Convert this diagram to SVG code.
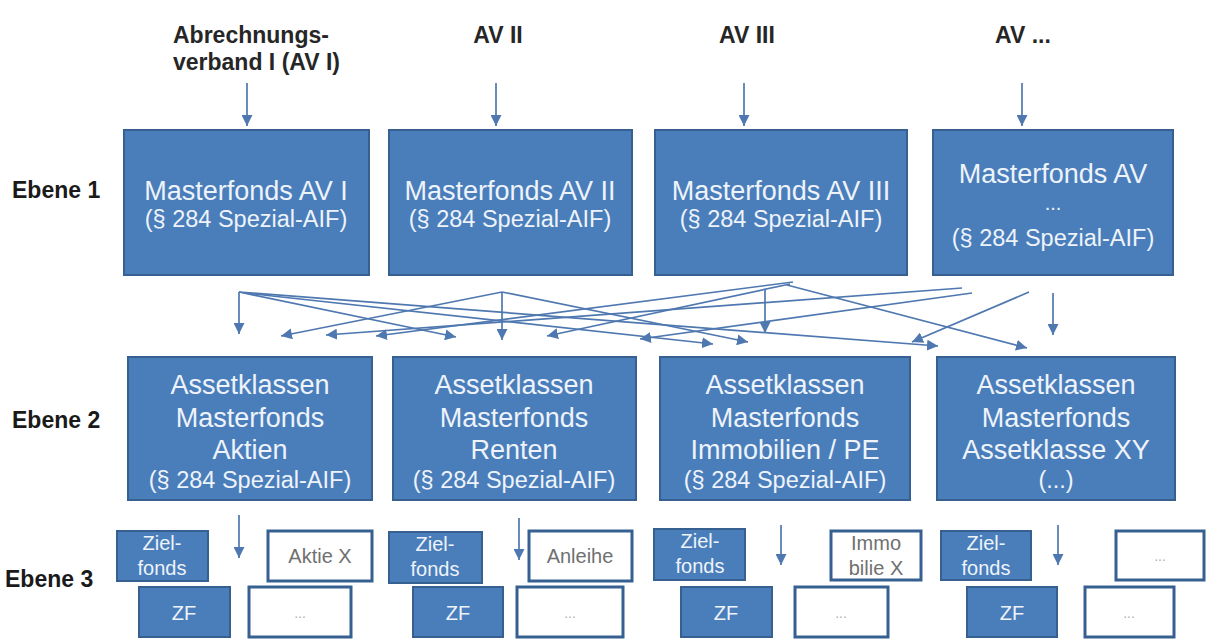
<svg xmlns="http://www.w3.org/2000/svg" width="1206" height="644" viewBox="0 0 1206 644">
<style>
.bg{fill:#ffffff}
.box{fill:#4a7ebb;stroke:#36608f;stroke-width:2}
.wbox{fill:#ffffff;stroke:#36608f;stroke-width:3}
.t1{font-family:"Liberation Sans",Arial,sans-serif;font-size:27px;fill:#eef3fa;text-anchor:middle}
.t2{font-family:"Liberation Sans",Arial,sans-serif;font-size:23.5px;fill:#eef3fa;text-anchor:middle}
.t3{font-family:"Liberation Sans",Arial,sans-serif;font-size:20px;fill:#eef3fa;text-anchor:middle}
.g3{font-family:"Liberation Sans",Arial,sans-serif;font-size:20px;fill:#707070;text-anchor:middle}
.dots{font-family:"Liberation Sans",Arial,sans-serif;font-size:14px;fill:#b0b0b0;text-anchor:middle}
.hd{font-family:"Liberation Sans",Arial,sans-serif;font-size:23px;font-weight:bold;fill:#262626}
.lv{font-family:"Liberation Sans",Arial,sans-serif;font-size:23px;font-weight:bold;fill:#1a1a1a}
.c{fill:none;stroke:#4f78b0;stroke-width:1.7;marker-end:url(#ah)}
</style>
<defs>
<marker id="ah" viewBox="0 0 10 10" refX="10" refY="5" markerWidth="11" markerHeight="11" markerUnits="userSpaceOnUse" orient="auto">
<path d="M0,0 L10,5 L0,10 z" fill="#4f78b0"/>
</marker>
</defs>
<rect class="bg" x="0" y="0" width="1206" height="644"/>

<g id="headers">
<text class="hd" x="173" y="43">Abrechnungs-</text>
<text class="hd" x="173" y="70">verband I (AV I)</text>
<text class="hd" x="498" y="43" text-anchor="middle">AV II</text>
<text class="hd" x="747" y="43" text-anchor="middle">AV III</text>
<text class="hd" x="1023" y="43" text-anchor="middle">AV ...</text>
</g>
<g id="levels">
<text class="lv" x="12" y="198">Ebene 1</text>
<text class="lv" x="12" y="428">Ebene 2</text>
<text class="lv" x="5" y="587">Ebene 3</text>
</g>

<g id="mf1"><rect class="box" x="124" y="130" width="245" height="145"/>
<text class="t1" x="246" y="200">Masterfonds AV I</text><text class="t2" x="246" y="227">(§ 284 Spezial-AIF)</text></g>
<g id="mf2"><rect class="box" x="389" y="130" width="243" height="145"/>
<text class="t1" x="510" y="200">Masterfonds AV II</text><text class="t2" x="510" y="227">(§ 284 Spezial-AIF)</text></g>
<g id="mf3"><rect class="box" x="655" y="130" width="252" height="145"/>
<text class="t1" x="781" y="200">Masterfonds AV III</text><text class="t2" x="781" y="227">(§ 284 Spezial-AIF)</text></g>
<g id="mf4"><rect class="box" x="933" y="130" width="240" height="145"/>
<text class="t1" x="1053" y="183">Masterfonds AV</text><text class="t3" x="1053" y="210">...</text><text class="t2" x="1053" y="246">(§ 284 Spezial-AIF)</text></g>

<g id="ak1"><rect class="box" x="128" y="357" width="244" height="143"/>
<text class="t1" x="250" y="394">Assetklassen</text><text class="t1" x="250" y="427">Masterfonds</text><text class="t1" x="250" y="459">Aktien</text><text class="t2" x="250" y="488">(§ 284 Spezial-AIF)</text></g>
<g id="ak2"><rect class="box" x="393" y="357" width="243" height="143"/>
<text class="t1" x="514" y="394">Assetklassen</text><text class="t1" x="514" y="427">Masterfonds</text><text class="t1" x="514" y="459">Renten</text><text class="t2" x="514" y="488">(§ 284 Spezial-AIF)</text></g>
<g id="ak3"><rect class="box" x="660" y="357" width="250" height="143"/>
<text class="t1" x="785" y="394">Assetklassen</text><text class="t1" x="785" y="427">Masterfonds</text><text class="t1" x="785" y="459">Immobilien / PE</text><text class="t2" x="785" y="488">(§ 284 Spezial-AIF)</text></g>
<g id="ak4"><rect class="box" x="937" y="357" width="238" height="143"/>
<text class="t1" x="1056" y="394">Assetklassen</text><text class="t1" x="1056" y="427">Masterfonds</text><text class="t1" x="1056" y="459">Assetklasse XY</text><text class="t2" x="1056" y="488">(...)</text></g>

<g id="zf1a"><rect class="box" x="117" y="531" width="91" height="50"/><text class="t3" x="162" y="550">Ziel-</text><text class="t3" x="162" y="575">fonds</text></g>
<g id="zf2a"><rect class="box" x="389" y="532" width="93" height="51"/><text class="t3" x="435" y="551">Ziel-</text><text class="t3" x="435" y="576">fonds</text></g>
<g id="zf3a"><rect class="box" x="654" y="529" width="91" height="51"/><text class="t3" x="700" y="548">Ziel-</text><text class="t3" x="700" y="573">fonds</text></g>
<g id="zf4a"><rect class="box" x="941" y="531" width="90" height="49"/><text class="t3" x="986" y="550">Ziel-</text><text class="t3" x="986" y="575">fonds</text></g>

<g id="zf1b"><rect class="box" x="139" y="587" width="91" height="50"/><text class="t3" x="184" y="620">ZF</text></g>
<g id="zf2b"><rect class="box" x="413" y="587" width="90" height="50"/><text class="t3" x="458" y="620">ZF</text></g>
<g id="zf3b"><rect class="box" x="681" y="587" width="91" height="50"/><text class="t3" x="726" y="620">ZF</text></g>
<g id="zf4b"><rect class="box" x="967" y="587" width="90" height="50"/><text class="t3" x="1012" y="620">ZF</text></g>

<g id="aktie"><rect class="wbox" x="268" y="531" width="104" height="50"/><text class="g3" x="320" y="563">Aktie X</text></g>
<g id="anleihe"><rect class="wbox" x="529" y="531" width="103" height="50"/><text class="g3" x="580" y="563">Anleihe</text></g>
<g id="immo"><rect class="wbox" x="831" y="531" width="90" height="49"/><text class="g3" x="876" y="550">Immo</text><text class="g3" x="876" y="575">bilie X</text></g>
<g id="w4a"><rect class="wbox" x="1116" y="531" width="88" height="49"/><text class="dots" x="1160" y="561">...</text></g>
<g id="w1b"><rect class="wbox" x="249" y="587" width="102" height="50"/><text class="dots" x="300" y="618">...</text></g>
<g id="w2b"><rect class="wbox" x="517" y="587" width="106" height="50"/><text class="dots" x="570" y="618">...</text></g>
<g id="w3b"><rect class="wbox" x="795" y="587" width="93" height="50"/><text class="dots" x="841" y="618">...</text></g>
<g id="w4b"><rect class="wbox" x="1085" y="587" width="89" height="50"/><text class="dots" x="1129" y="618">...</text></g>

<g id="connectors">
<line class="c" x1="247" y1="83" x2="247" y2="126"/>
<line class="c" x1="496" y1="83" x2="496" y2="126"/>
<line class="c" x1="744" y1="83" x2="744" y2="126"/>
<line class="c" x1="1022" y1="83" x2="1022" y2="126"/>

<line class="c" x1="239" y1="292" x2="239" y2="334"/>
<line class="c" x1="239" y1="292" x2="456" y2="337"/>
<line class="c" x1="245" y1="293" x2="713" y2="344"/>
<line class="c" x1="239" y1="292" x2="938" y2="346"/>

<line class="c" x1="502" y1="292" x2="502" y2="340"/>
<line class="c" x1="502" y1="292" x2="281" y2="336"/>
<line class="c" x1="502" y1="292" x2="748" y2="342"/>

<line class="c" x1="765" y1="290" x2="765" y2="333"/>
<line class="c" x1="793" y1="282" x2="376" y2="336"/>
<line class="c" x1="790" y1="284" x2="547" y2="336"/>
<line class="c" x1="787" y1="285" x2="1027" y2="348"/>

<line class="c" x1="962" y1="288" x2="326" y2="335"/>
<line class="c" x1="972" y1="293" x2="640" y2="339"/>
<line class="c" x1="1029" y1="292" x2="912" y2="342"/>
<line class="c" x1="1053" y1="293" x2="1053" y2="335"/>

<line class="c" x1="239" y1="515" x2="239" y2="558"/>
<line class="c" x1="519" y1="518" x2="519" y2="560"/>
<line class="c" x1="781" y1="525" x2="781" y2="565"/>
<line class="c" x1="1058" y1="525" x2="1058" y2="565"/>
</g>
</svg>
